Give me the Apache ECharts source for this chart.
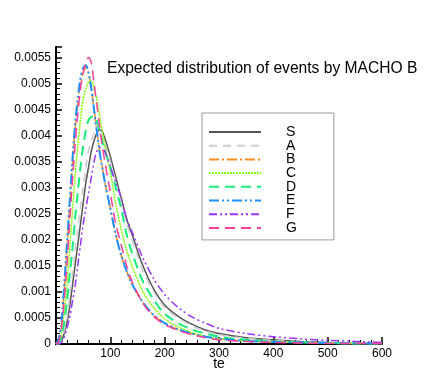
<!DOCTYPE html>
<html>
<head>
<meta charset="utf-8">
<script src="https://cdn.jsdelivr.net/npm/echarts@6/dist/echarts.min.js"></script>
<style>
  html, body { margin: 0; padding: 0; background: #fff; }
  #chart { width: 436px; height: 388px; }
</style>
</head>
<body>
<div id="chart"></div>
<script>
// te sample points (x axis)
const te = [0, 5, 10, 15, 20, 25, 30, 35, 40, 45, 50, 55, 60, 65, 70, 75, 80, 85, 90, 100, 110, 120, 130, 140, 160, 180, 200, 225, 250, 275, 300, 350, 400, 450, 500, 550, 600];

const seriesNames = ['S', 'A', 'B', 'C', 'D', 'E', 'F', 'G'];

const S = [0, 0, 0.00005, 0.0002, 0.0004, 0.0007, 0.0011, 0.0015, 0.0019, 0.0023, 0.0027, 0.0031, 0.0034, 0.0037, 0.0039, 0.00405, 0.00411, 0.00408, 0.00395, 0.0036, 0.0032, 0.0028, 0.0024, 0.0021, 0.0015, 0.00105, 0.00075, 0.00053, 0.00038, 0.00027, 0.0002, 0.00012, 0.00008, 0.00005, 0.00003, 0.00002, 0.00001];
const A = [0, 0, 0.00007, 0.00025, 0.0005, 0.0009, 0.0013, 0.0018, 0.0022, 0.0026, 0.003, 0.0034, 0.0037, 0.0039, 0.00405, 0.0041, 0.00405, 0.0039, 0.0038, 0.0035, 0.0031, 0.0027, 0.0023, 0.002, 0.0014, 0.001, 0.0007, 0.0005, 0.00035, 0.00025, 0.00018, 0.00011, 0.00007, 0.00004, 0.00003, 0.00002, 0.00001];
const B = [0, 0.0001, 0.00038, 0.001, 0.0018, 0.0026, 0.0034, 0.0041, 0.0046, 0.005, 0.0052, 0.0053, 0.0052, 0.0049, 0.0045, 0.0041, 0.0037, 0.0034, 0.0031, 0.0026, 0.0021, 0.0017, 0.0014, 0.00115, 0.0008, 0.00055, 0.0004, 0.00028, 0.0002, 0.00014, 0.0001, 0.00006, 0.00004, 0.00003, 0.00002, 0.00001, 0.00001];
const C = [0, 0.00003, 0.0002, 0.0006, 0.0011, 0.0018, 0.0025, 0.0032, 0.0038, 0.0043, 0.0047, 0.0049, 0.00503, 0.00505, 0.0049, 0.0047, 0.0044, 0.0041, 0.0038, 0.0033, 0.0027, 0.0022, 0.0018, 0.0015, 0.001, 0.0007, 0.00048, 0.00033, 0.00022, 0.00015, 0.0001, 0.00006, 0.00004, 0.00003, 0.00002, 0.00001, 0.00001];
const D = [0, 0.00002, 0.00015, 0.0004, 0.0008, 0.0013, 0.0018, 0.0024, 0.0029, 0.0034, 0.0038, 0.0041, 0.0043, 0.00436, 0.00437, 0.0043, 0.0041, 0.0039, 0.0037, 0.0034, 0.003, 0.0026, 0.0021, 0.00175, 0.0012, 0.00085, 0.00058, 0.0004, 0.00028, 0.0002, 0.00014, 0.00008, 0.00005, 0.00003, 0.00002, 0.00001, 0.00001];
const E = [0, 0.0001, 0.0004, 0.0011, 0.0019, 0.0027, 0.0035, 0.0042, 0.0047, 0.0051, 0.0053, 0.00535, 0.0052, 0.0049, 0.0045, 0.0041, 0.0037, 0.0034, 0.0031, 0.0026, 0.0021, 0.0017, 0.0014, 0.00115, 0.0008, 0.00055, 0.0004, 0.00028, 0.0002, 0.00014, 0.0001, 0.00006, 0.00004, 0.00003, 0.00002, 0.00001, 0.00001];
const F = [0, 0, 0.00003, 0.00012, 0.0003, 0.0005, 0.0008, 0.0011, 0.0015, 0.0019, 0.0023, 0.0026, 0.0029, 0.0032, 0.0035, 0.0037, 0.00377, 0.00375, 0.0037, 0.0034, 0.0031, 0.0028, 0.0024, 0.00215, 0.00165, 0.00125, 0.00095, 0.0007, 0.00052, 0.0004, 0.0003, 0.0002, 0.00014, 0.0001, 0.00007, 0.00005, 0.00003];
const G = [0, 0.00005, 0.0003, 0.0008, 0.0015, 0.0023, 0.0031, 0.0038, 0.0044, 0.0049, 0.0052, 0.0054, 0.0055, 0.0054, 0.005, 0.0046, 0.0042, 0.0038, 0.0035, 0.0029, 0.0023, 0.0019, 0.0015, 0.0012, 0.00078, 0.00053, 0.00037, 0.00026, 0.00018, 0.00012, 0.00008, 0.00005, 0.00003, 0.00002, 0.00001, 0.00001, 0.00001];

const values = [S, A, B, C, D, E, F, G];

const styles = [
    { color: '#555555', type: 'solid', width: 1.5 },
    { color: '#cccccc', type: [8, 6], width: 1.5 },
    { color: '#ff8c1a', type: [10, 3, 2, 3], width: 1.5 },
    { color: '#80ff00', type: [2, 1], width: 1.5 },
    { color: '#14ee7a', type: [10, 6], width: 2 },
    { color: '#1e8fff', type: [10, 3, 2, 3, 2, 3], width: 2 },
    { color: '#9933ff', type: [8, 3, 2, 3, 2, 3], width: 1.5 },
    { color: '#ff3f99', type: [10, 6], width: 1.5 }
];

const chart = echarts.init(document.getElementById('chart'), null, { renderer: 'canvas' });

chart.setOption({
    animation: false,
    textStyle: { fontFamily: 'Liberation Sans, Arial, sans-serif' },
    grid: { left: 56, right: 54, top: 47, bottom: 44 },
    title: {
        text: 'Expected distribution of events by MACHO B',
        left: 102,
        top: 56,
        textStyle: { fontSize: 15.6, fontWeight: 'normal', color: '#000' }
    },
    legend: {
        orient: 'vertical',
        left: 202,
        top: 113,
        padding: [12, 37, 5, 6],
        borderColor: '#999',
        borderWidth: 1,
        itemWidth: 52,
        itemHeight: 10,
        itemGap: -0.3,
        itemStyle: { opacity: 0 },
        textStyle: { fontSize: 14, lineHeight: 12, color: '#000', padding: [0, 0, 0, 20] },
        data: seriesNames
    },
    xAxis: {
        type: 'value',
        min: 0,
        max: 600,
        interval: 100,
        name: 'te',
        nameLocation: 'middle',
        nameGap: 13,
        nameMoveOverlap: false,
        nameTextStyle: { fontSize: 14, color: '#000' },
        axisLine: { onZero: false, lineStyle: { color: '#000', width: 2 } },
        axisTick: { inside: true, length: 7, lineStyle: { color: '#000', width: 1.5 } },
        minorTick: { show: true, splitNumber: 5, length: 4, lineStyle: { color: '#000' } },
        axisLabel: { showMinLabel: false, fontSize: 12, color: '#000', margin: 4 },
        splitLine: { show: false }
    },
    yAxis: {
        type: 'value',
        min: 0,
        max: 0.0057,
        interval: 0.0005,
        axisLine: { show: true, lineStyle: { color: '#000', width: 2 } },
        axisTick: { inside: true, length: 6, lineStyle: { color: '#000', width: 1.5 } },
        minorTick: { show: true, splitNumber: 5, length: 4, lineStyle: { color: '#000' } },
        axisLabel: { showMaxLabel: false, fontSize: 12, color: '#000', margin: 5 },
        splitLine: { show: false }
    },
    series: seriesNames.map((name, k) => {
        return {
            name: name,
            type: 'line',
            smooth: 0.3,
            symbol: 'none',
            legendIcon: 'none',
            color: styles[k].color,
            lineStyle: styles[k],
            data: te.map((t, i) => [t, values[k][i]])
        };
    })
});
</script>
</body>
</html>
